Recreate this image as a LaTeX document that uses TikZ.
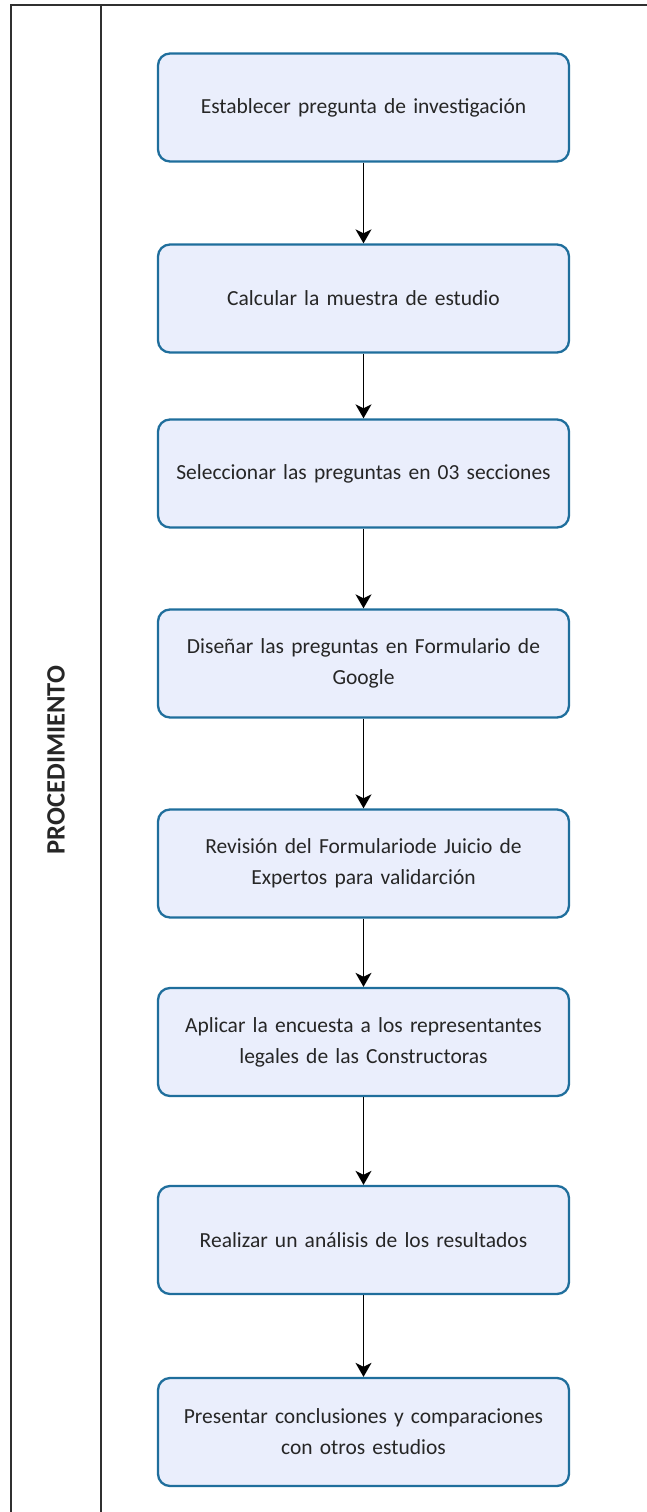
\documentclass[tikz,border=0pt]{standalone}
\usepackage{fontspec}
\setmainfont{Carlito}
\usepackage{tikz}
\usetikzlibrary{arrows.meta, positioning}

\definecolor{boxline}{HTML}{1F6E9C}
\definecolor{boxfill}{HTML}{EAEEFC}
\definecolor{frameline}{HTML}{303030}
\definecolor{txt}{HTML}{262626}

\tikzset{
  stepbox/.style = {draw = boxline, fill = boxfill, line width = 2.3pt,
    rounded corners = 12pt, minimum width = 411pt, minimum height = 108pt,
    text width = 395pt, align = center, font = \fontsize{21.5}{31}\selectfont,
    text = txt, inner sep = 0pt},
}

\begin{document}
\begin{tikzpicture}[x = 1pt, y = -1pt]
  \useasboundingbox (0,0) rectangle (647,1512);

  % frame of the lane
  \coordinate (tl) at (11,5);
  \coordinate (tr) at (647,5);
  \coordinate (bl) at (11,1512);
  \coordinate (dt) at (101,5);
  \coordinate (db) at (101,1512);
  \draw [frameline, line width = 1.5pt] (bl) -- (tl) -- (tr);
  \draw [frameline, line width = 1.5pt] (dt) -- (db);
  \node (lane) [rotate = 90, font = \fontsize{26.5}{28}\selectfont\bfseries, text = txt] at (56,760) {PROCEDIMIENTO};

  \node (s1) [stepbox] at (363.5,107.5) {Establecer pregunta de investigación};
  \node (s2) [stepbox] at (363.5,298.5) {Calcular la muestra de estudio};
  \node (s3) [stepbox] at (363.5,473.5) {Seleccionar las preguntas en 03 secciones};
  \node (s4) [stepbox] at (363.5,663.5) {Diseñar las preguntas en Formulario de\\Google};
  \node (s5) [stepbox] at (363.5,863.5) {Revisión del Formulariode Juicio de\\Expertos para validarción};
  \node (s6) [stepbox] at (363.5,1042) {Aplicar la encuesta a los representantes\\legales de las Constructoras};
  \node (s7) [stepbox] at (363.5,1240) {Realizar un análisis de los resultados};
  \node (s8) [stepbox] at (363.5,1432) {Presentar conclusiones y comparaciones\\con otros estudios};

  \path [-{Stealth[length = 14pt, width = 16pt, inset = 4pt]}, line width = 1.4pt]
    (s1) edge (s2)
    (s2) edge (s3)
    (s3) edge (s4)
    (s4) edge (s5)
    (s5) edge (s6)
    (s6) edge (s7)
    (s7) edge (s8);
\end{tikzpicture}
\end{document}
